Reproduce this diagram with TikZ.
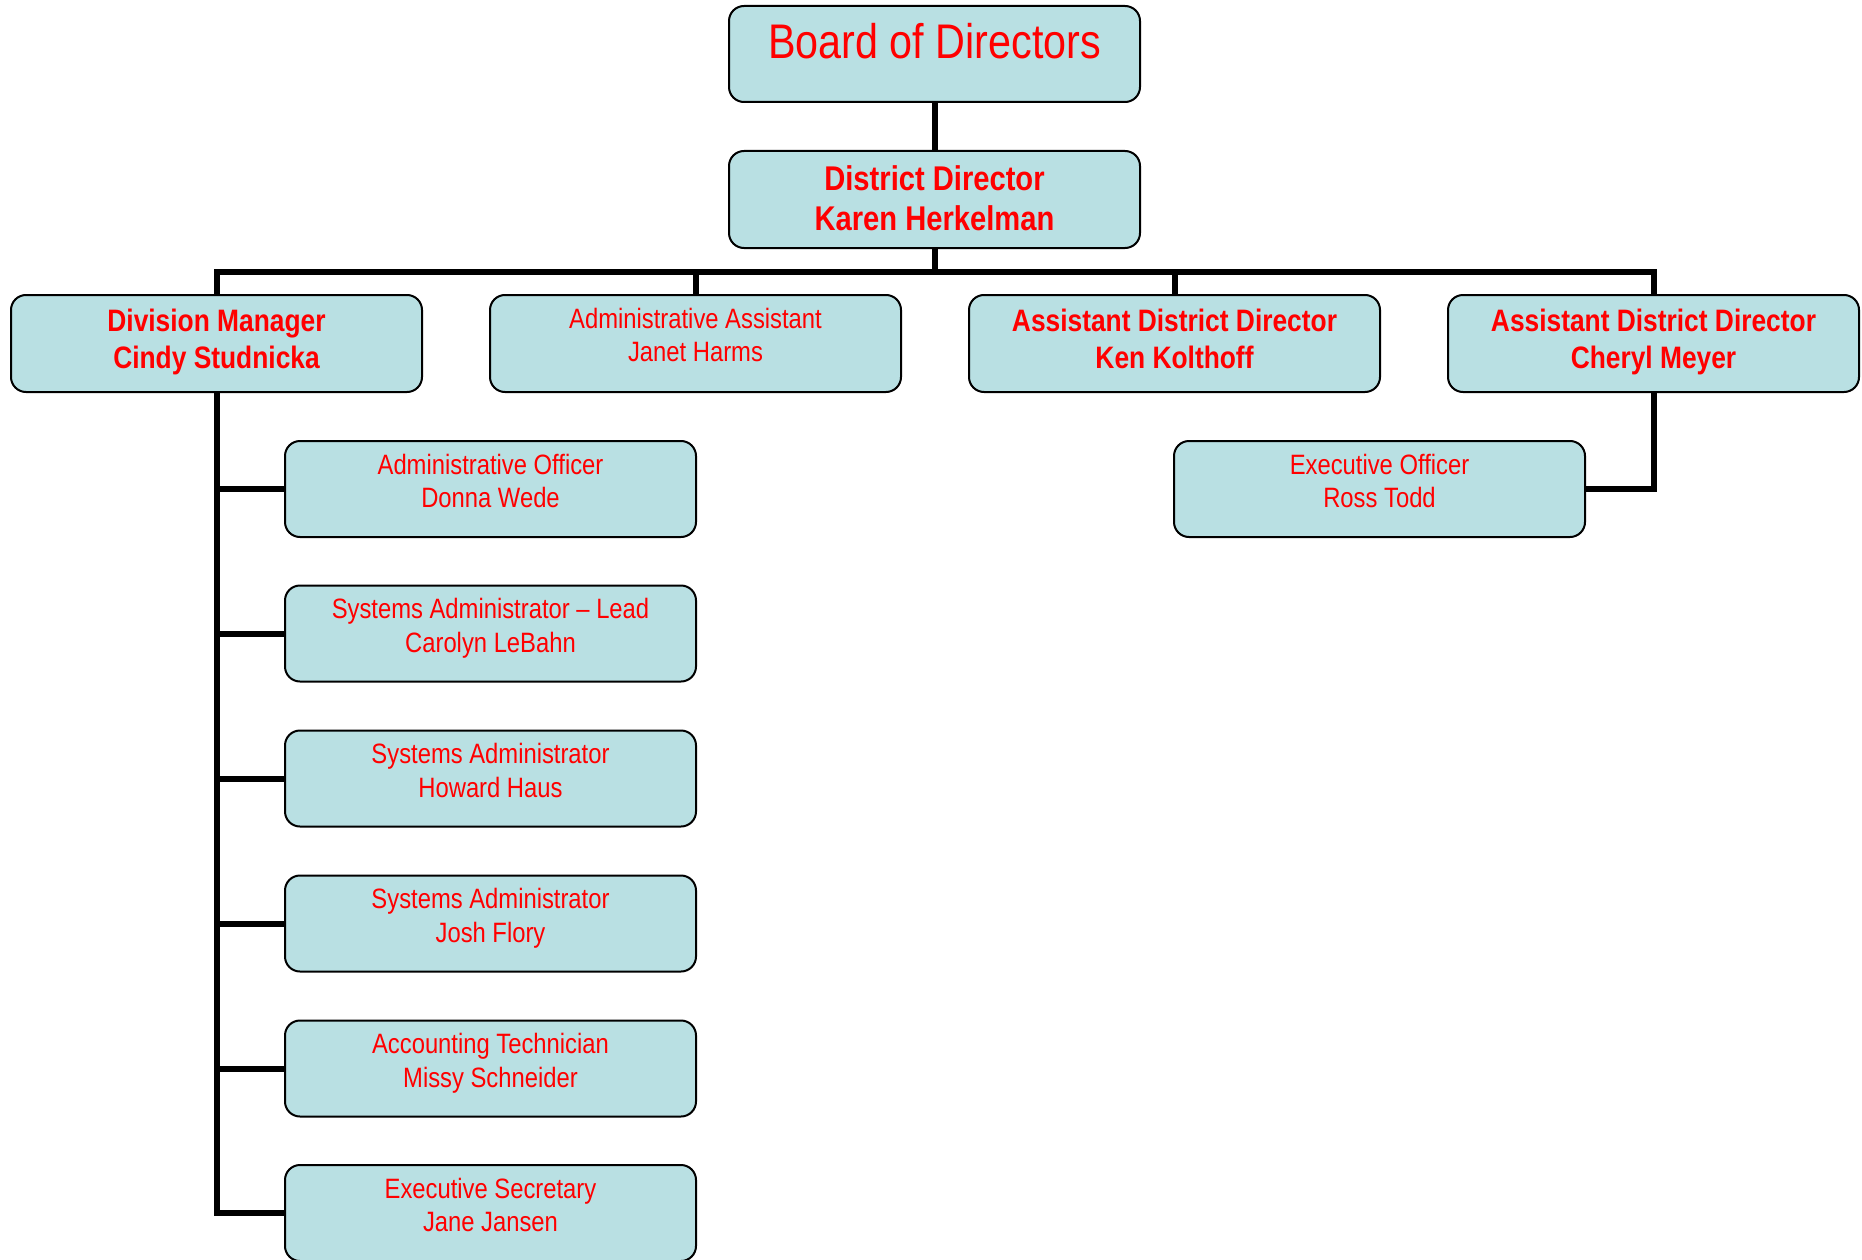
\documentclass[tikz,border=0pt]{standalone}
\usepackage{fontspec}
\setmainfont[FakeStretch=0.85]{Liberation Sans}
\usetikzlibrary{backgrounds}
\definecolor{boxfill}{RGB}{185,224,227}
\definecolor{txtred}{RGB}{255,0,0}
\newcommand\regfont{\fontsize{28}{33.5}\selectfont}
\newcommand\lvlfont{\fontsize{31}{36.7}\selectfont\bfseries}
\newcommand\ddfont{\fontsize{34.3}{40}\selectfont\bfseries}
\newcommand\bdfont{\fontsize{48.6}{56}\selectfont}
\newcommand\twoline[4]{\rule{0pt}{#3pt}#1\\#2\rule[-#4pt]{0pt}{#4pt}}
\begin{document}
\begin{tikzpicture}[x=1pt,y=-1pt,
  orgbox/.style={draw=black, line width=2pt, fill=boxfill, rounded corners=15pt,
    minimum width=411pt, minimum height=96pt, inner sep=0pt, outer sep=0pt,
    align=center, text=txtred},
  regbox/.style={orgbox, font=\regfont},
  lvlbox/.style={orgbox, font=\lvlfont, minimum height=97pt},
  ddbox/.style={orgbox, font=\ddfont, minimum height=97pt},
  bdbox/.style={orgbox, font=\bdfont},
  conn/.style={line width=6pt, draw=black, line join=miter}]
\useasboundingbox (0,0) rectangle (1862,1260);

\node[bdbox] (bd) at (934.5,54) {\rule{0pt}{37pt}Board of Directors\rule[-27pt]{0pt}{27pt}};
\node[ddbox] (dd) at (934.5,199.5) {\twoline{District Director}{Karen Herkelman}{27}{6}};

\node[lvlbox] (dm) at (216.5,343.5) {\twoline{Division Manager}{Cindy Studnicka}{25}{12}};
\node[regbox, minimum height=97pt] (aa) at (695.5,343.5) {\twoline{Administrative Assistant}{Janet Harms}{22}{19}};
\node[lvlbox] (ak) at (1174.5,343.5) {\twoline{Assistant District Director}{Ken Kolthoff}{25}{12}};
\node[lvlbox] (cm) at (1653.5,343.5) {\twoline{Assistant District Director}{Cheryl Meyer}{25}{12}};

\node[regbox] (eo) at (1379.5,489) {\twoline{Executive Officer}{Ross Todd}{22}{18.5}};

\node[regbox] (s1) at (490.5,489) {\twoline{Administrative Officer}{Donna Wede}{22}{18.5}};
\node[regbox] (s2) at (490.5,633.5) {\twoline{Systems Administrator \textendash{} Lead}{Carolyn LeBahn}{22}{18.5}};
\node[regbox] (s3) at (490.5,778.5) {\twoline{Systems Administrator}{Howard Haus}{22}{18.5}};
\node[regbox] (s4) at (490.5,923.5) {\twoline{Systems Administrator}{Josh Flory}{22}{18.5}};
\node[regbox] (s5) at (490.5,1068.5) {\twoline{Accounting Technician}{Missy Schneider}{22}{18.5}};
\node[regbox] (s6) at (490.5,1213) {\twoline{Executive Secretary}{Jane Jansen}{22}{18.5}};

\coordinate (bar) at (934.5,272);

\begin{scope}[on background layer]
\draw[conn] (bd.south) -- (dd.north);
\draw[conn] (dd.south) -- (bar);
\draw[conn] (dm.north) -- (dm.north |- bar) -- (cm.north |- bar) -- (cm.north);
\draw[conn] (aa.north) -- (aa.north |- bar);
\draw[conn] (ak.north) -- (ak.north |- bar);
\draw[conn] (cm.south) |- (eo.east);
\draw[conn] (dm.south) |- (s6.west);
\foreach \s in {s1,s2,s3,s4,s5} \draw[conn] (dm.south |- \s.west) -- (\s.west);
\end{scope}
\end{tikzpicture}
\end{document}
